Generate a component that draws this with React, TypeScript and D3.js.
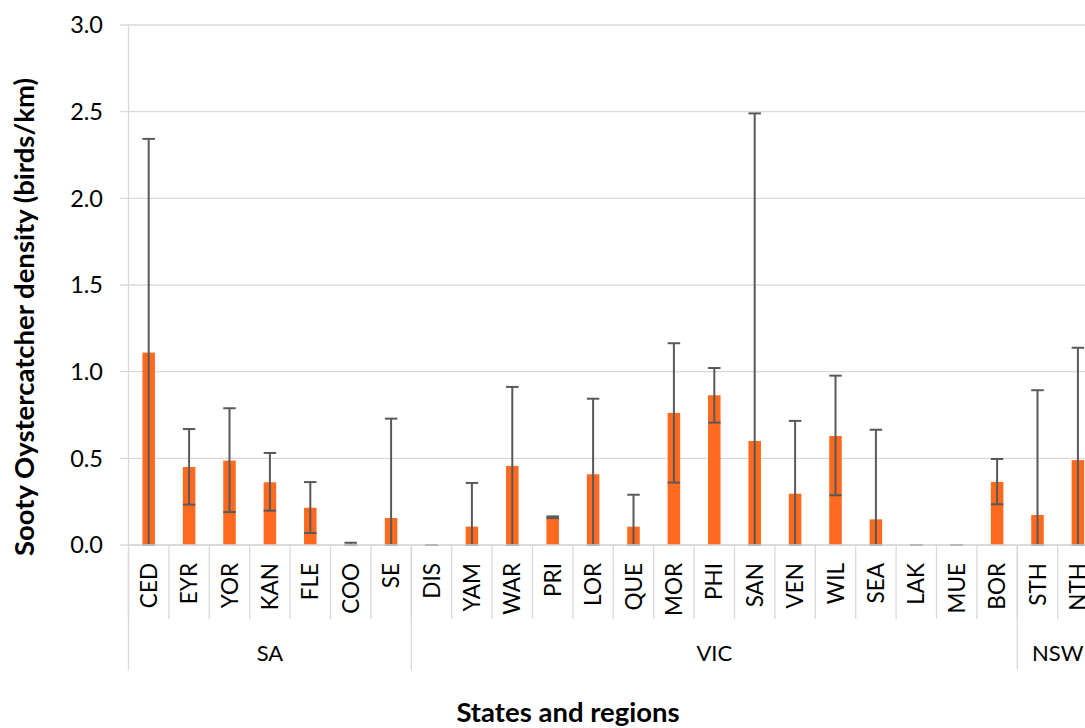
import React from "react";
import * as d3 from "d3";

const categories = ["CED","EYR","YOR","KAN","FLE","COO","SE","DIS","YAM","WAR","PRI","LOR","QUE","MOR","PHI","SAN","VEN","WIL","SEA","LAK","MUE","BOR","STH","NTH"];
const states = ["SA", "VIC", "NSW"];
const stateCounts = [7, 15, 2];
const density = [1.11, 0.45, 0.487, 0.362, 0.215, 0.005, 0.156, 0, 0.106, 0.456, 0.16, 0.408, 0.106, 0.762, 0.864, 0.6, 0.296, 0.629, 0.148, 0, 0, 0.364, 0.173, 0.49];
const upperCI = [2.343, 0.669, 0.789, 0.531, 0.363, 0.013, 0.729, 0, 0.358, 0.912, 0.165, 0.844, 0.29, 1.164, 1.021, 2.49, 0.716, 0.977, 0.665, 0, 0, 0.496, 0.893, 1.138];
const lowerCI = [0, 0.233, 0.19, 0.198, 0.069, 0, 0, 0, 0, 0, 0.155, 0, 0, 0.36, 0.706, 0, 0, 0.287, 0, 0, 0, 0.235, 0, 0];
const yTicks = [0, 0.5, 1.0, 1.5, 2.0, 2.5, 3.0];

const W = 1085, H = 728;
const x0 = 128.5, step = 40.4;
const yTop = 25, yBase = 545;
const FONT = "Lato, 'Open Sans', sans-serif";
const BAR = "#FF6A21";
const ERR = "#595959";
const GRID = "#d9d9d9";

export default function App() {
  const x = d3.scaleBand<string>().domain(categories).range([x0, x0 + step * categories.length]).paddingInner(0).paddingOuter(0);
  const y = d3.scaleLinear().domain([0, 3]).range([yBase, yTop]);
  const bw = x.bandwidth() * 0.31;
  const capW = bw;

  const bounds: number[] = [0];
  stateCounts.forEach((c, i) => bounds.push(bounds[i] + c));

  return (
    <svg width={W} height={H} style={{ position: "absolute", left: 0, top: 0, background: "#fff" }} fontFamily={FONT}>
      {yTicks.map((t) => (
        <line key={"g" + t} x1={120} x2={W} y1={y(t)} y2={y(t)} stroke={GRID} strokeWidth={1.3} />
      ))}
      {yTicks.map((t) => (
        <text key={"t" + t} x={103} y={y(t)} dy="0.36em" textAnchor="end" fontSize={23.5} fill="#000">
          {d3.format(".1f")(t)}
        </text>
      ))}
      {categories.map((c, i) => (
        <line key={"s" + c} x1={x0 + i * step} x2={x0 + i * step} y1={yBase} y2={619} stroke={GRID} strokeWidth={1.3} />
      ))}
      {bounds.map((b) => (
        <line key={"b" + b} x1={x0 + b * step} x2={x0 + b * step} y1={b === 0 ? yTop : yBase} y2={670} stroke={GRID} strokeWidth={1.3} />
      ))}
      {categories.map((c, i) => {
        const cx = (x(c) as number) + x.bandwidth() / 2;
        return (
          <rect key={"r" + c} x={cx - bw / 2} width={bw} y={y(density[i])} height={yBase - y(density[i])} fill={BAR} />
        );
      })}
      {categories.map((c, i) => {
        const cx = (x(c) as number) + x.bandwidth() / 2;
        const yu = y(upperCI[i]);
        const yl = y(lowerCI[i]);
        return (
          <g key={"e" + c} stroke={ERR} strokeWidth={2}>
            <line x1={cx} x2={cx} y1={yu} y2={yl} />
            <line x1={cx - capW / 2} x2={cx + capW / 2} y1={yu} y2={yu} />
            <line x1={cx - capW / 2} x2={cx + capW / 2} y1={yl} y2={yl} />
          </g>
        );
      })}
      <line x1={x0} x2={W} y1={yBase} y2={yBase} stroke={GRID} strokeWidth={1.3} />
      {categories.map((c) => {
        const cx = (x(c) as number) + x.bandwidth() / 2;
        return (
          <text key={"l" + c} transform={`translate(${cx + 8},563) rotate(-90)`} textAnchor="end" fontSize={22.5} fill="#000">
            {c}
          </text>
        );
      })}
      {states.map((s, i) => {
        const mid = x0 + ((bounds[i] + bounds[i + 1]) / 2) * step;
        return (
          <text key={"st" + s} x={mid} y={661} textAnchor="middle" fontSize={22} fill="#000">
            {s}
          </text>
        );
      })}
      <text x={568} y={722} textAnchor="middle" fontSize={27.5} fontWeight="bold" fill="#000">
        States and regions
      </text>
      <text transform="translate(34,317) rotate(-90)" textAnchor="middle" fontSize={27.5} fontWeight="bold" fill="#000">
        Sooty Oystercatcher density (birds/km)
      </text>
    </svg>
  );
}
